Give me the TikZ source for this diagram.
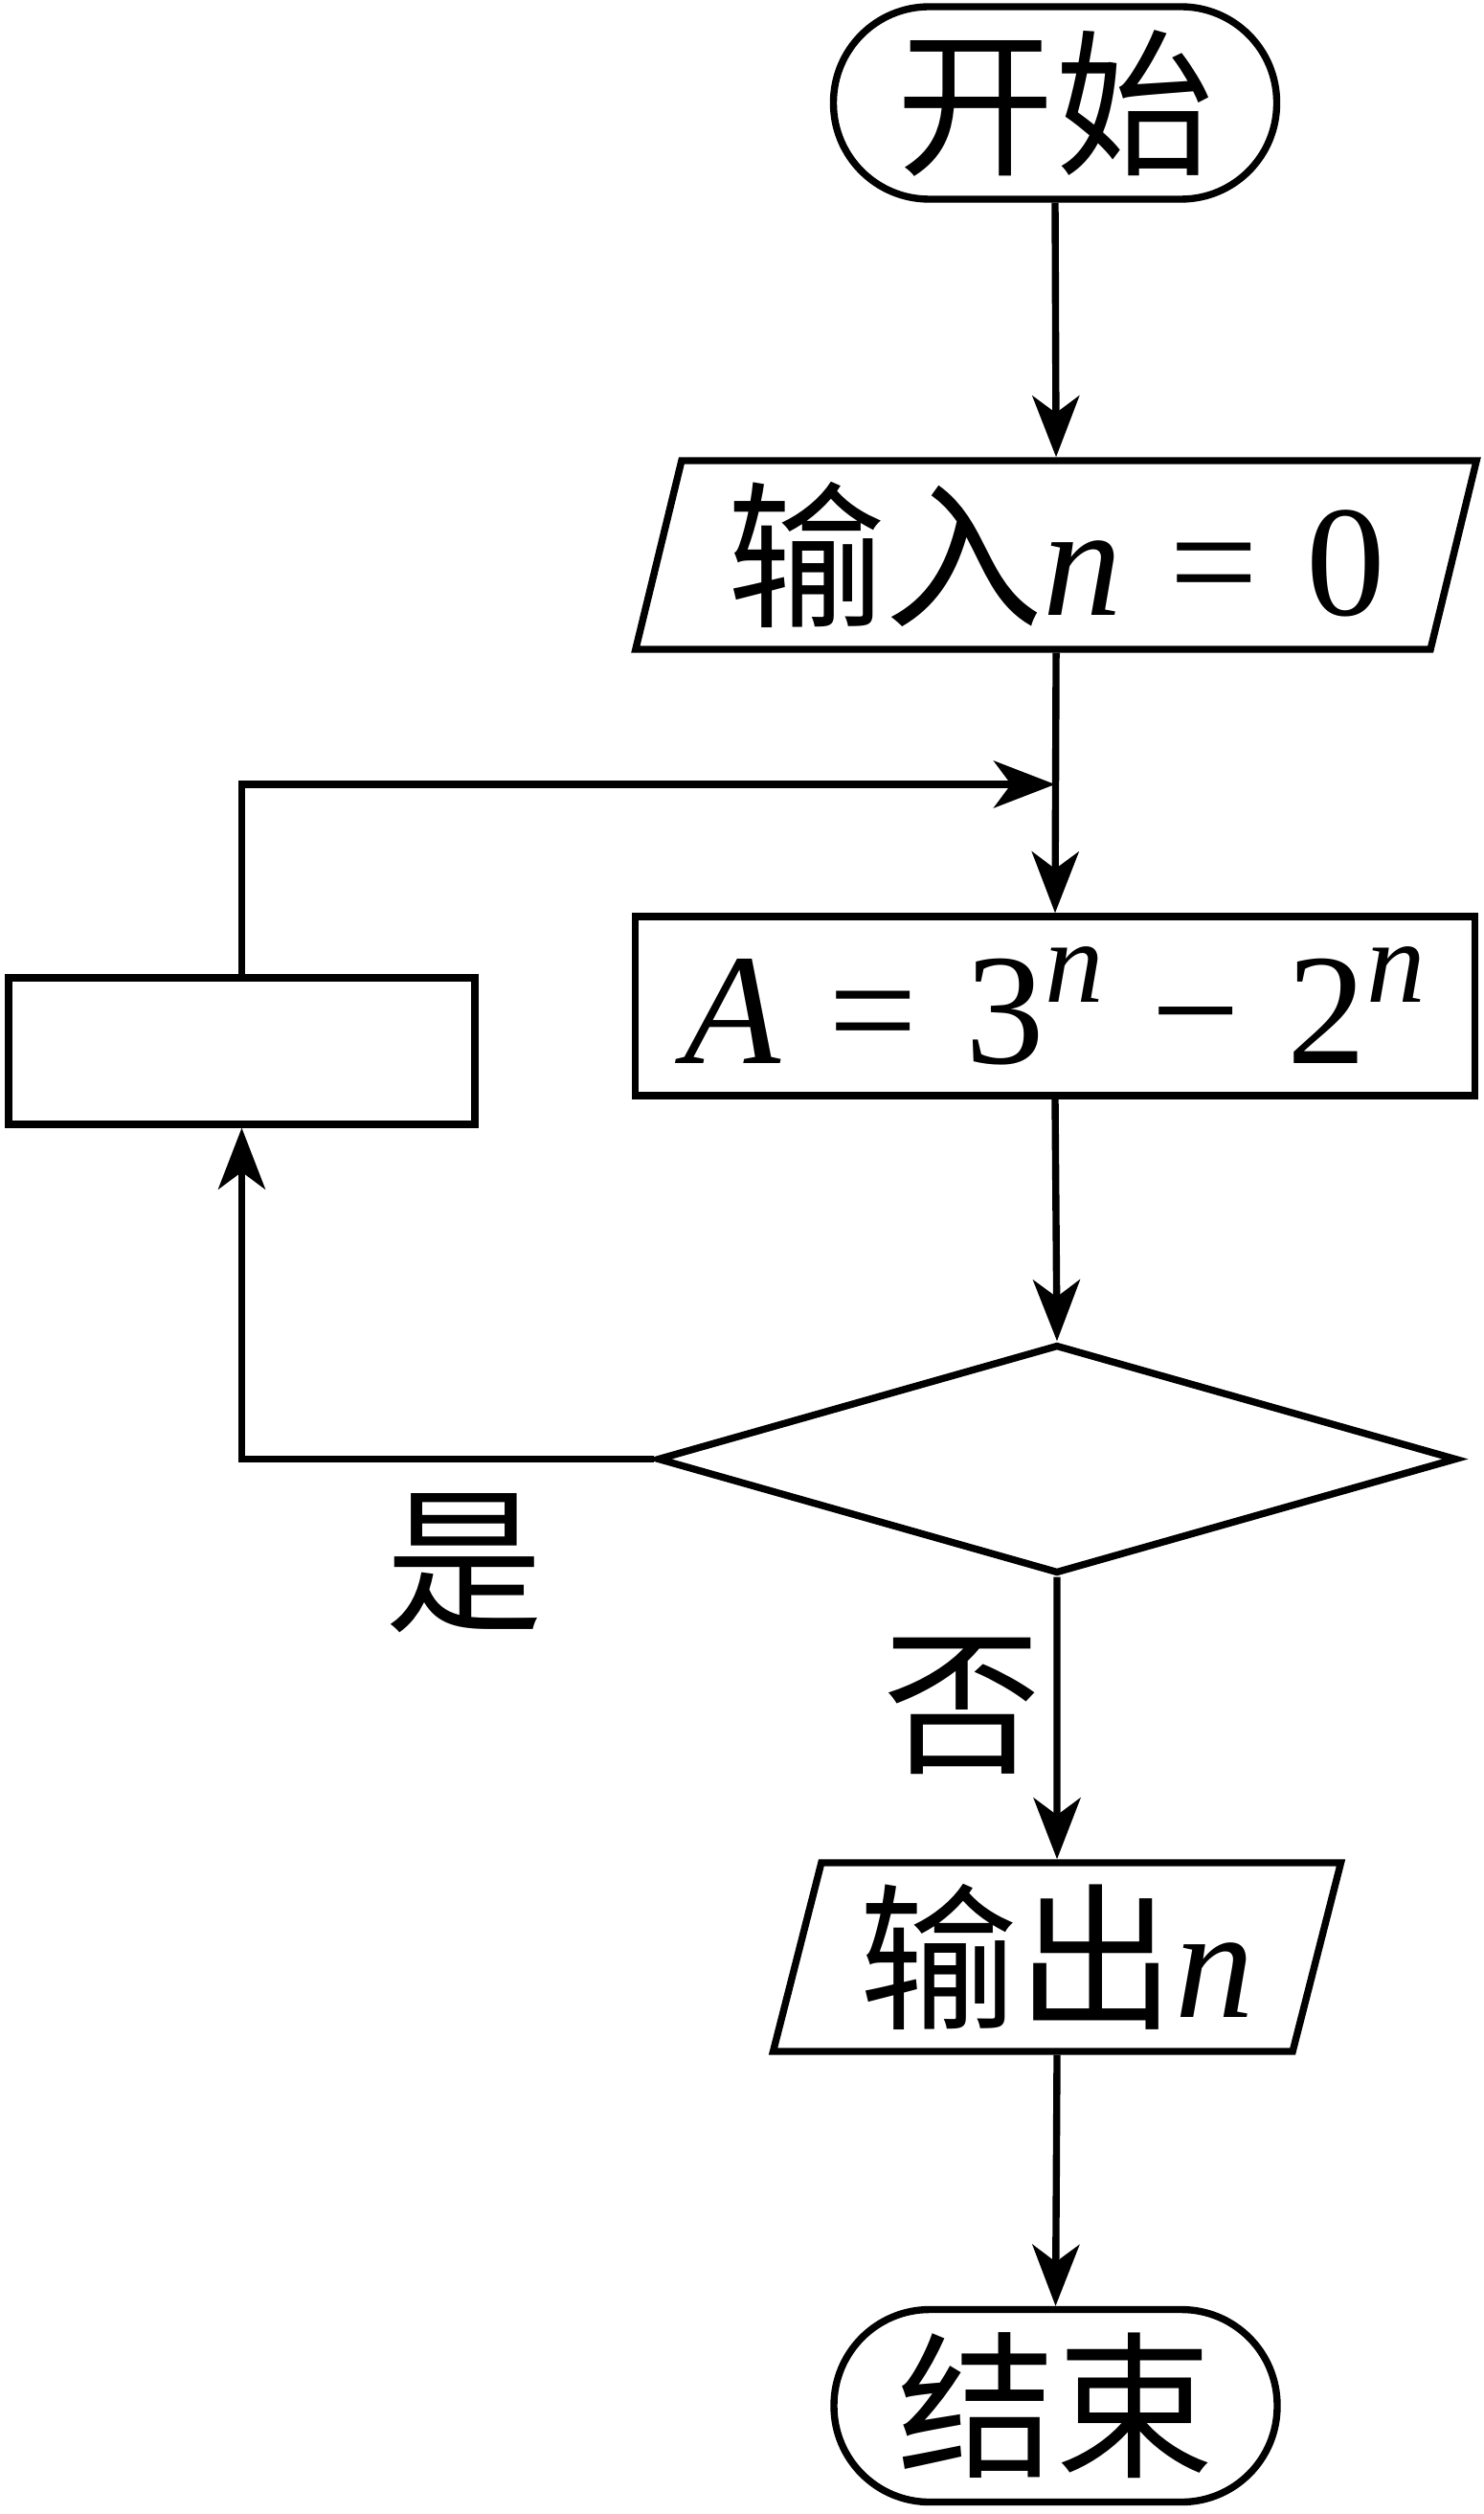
\documentclass[tikz,border=0pt]{standalone}
\usepackage{fontspec}
\setmainfont{Liberation Serif}
\newfontfamily\cjk{Noto Sans CJK SC}
\usetikzlibrary{arrows.meta,shapes.geometric,calc}
\newcommand{\gap}{\hspace{0.3em}}
\newcommand{\pown}{\raisebox{0.39em}{\fontsize{35pt}{35pt}\selectfont\textit{n}}}

\begin{document}
\begin{tikzpicture}[line width=2.1pt]
    \useasboundingbox (0,0) rectangle (15.49,-26.25);

    \tikzset{
        txt/.style={font=\fontsize{47pt}{50pt}\selectfont, inner sep=0pt},
        box/.style={txt, draw},
        term/.style={box, rounded corners=1cm, minimum width=4.63cm, minimum height=2.01cm},
        io/.style={box, trapezium, trapezium left angle=74.5, trapezium right angle=105.5,
                   trapezium stretches=true, minimum height=1.97cm},
        arr/.style={-{Stealth[length=0.64cm, width=0.49cm, inset=0.18cm]}}
    }

    \node[term] (start) at (11.02,-1.075) {\cjk 开始};
    \node[io, minimum width=8.79cm] (input) at (11.03,-5.795) {{\cjk 输入}\textit{n}\gap=\gap0};
    \node[box, minimum width=8.77cm, minimum height=1.87cm] (proc) at (11.02,-10.505)
        {\textit{A}\gap=\gap3\pown\gap−\gap2\pown};
    \node[box, minimum width=4.87cm, minimum height=1.53cm] (loop) at (2.525,-10.975) {};
    \node[box, diamond, minimum width=8.35cm, minimum height=2.39cm] (dec) at (11.04,-15.235) {};
    \node[io, minimum width=5.93cm] (output) at (11.04,-20.435) {{\cjk 输出}\textit{n}};
    \node[term] (stop) at (11.025,-25.12) {\cjk 结束};

    \node[txt] (yes) at (4.85,-16.32) {\cjk 是};
    \node[txt] (no) at (10.05,-17.81) {\cjk 否};

    \coordinate (join) at (11.02,-8.19);

    \draw[arr] (start.south) -- (input.north);
    \draw[arr] (input.south) -- (proc.north);
    \draw[arr] (loop.north) |- (join);
    \draw[arr] (proc.south) -- (dec.north);
    \draw[arr] (dec.west) -| (loop.south);
    \draw[arr] (dec.south) -- (output.north);
    \draw[arr] (output.south) -- (stop.north);
\end{tikzpicture}
\end{document}
